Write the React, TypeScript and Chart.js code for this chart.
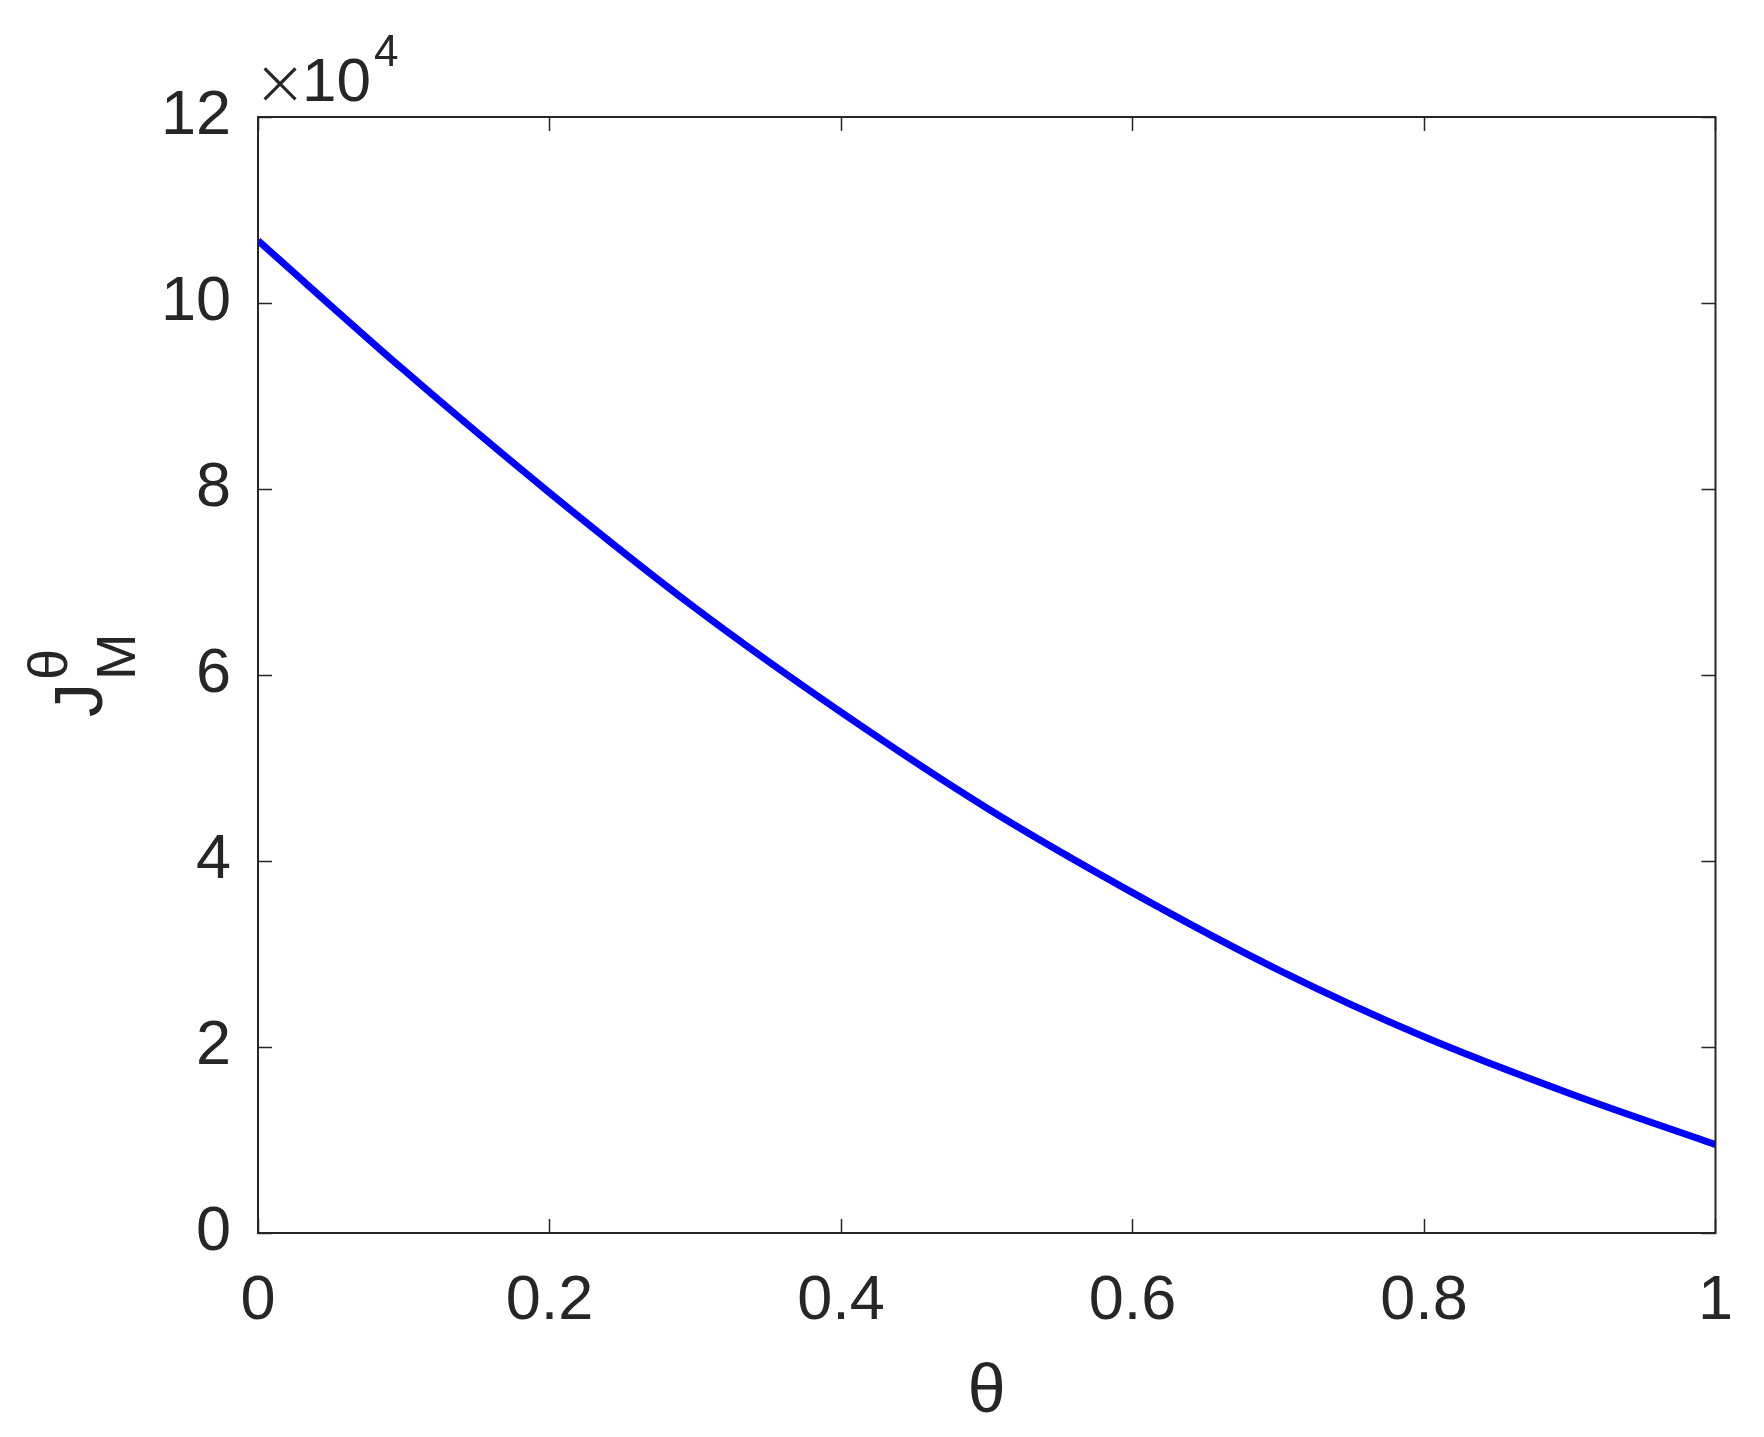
import React, { useEffect, useRef } from "react";
import { Chart, registerables } from "chart.js";

Chart.register(...registerables);

const thetaValues = [0, 0.1, 0.2, 0.3, 0.4, 0.5, 0.6, 0.7, 0.8, 0.9, 1.0];
const jValues = [106700, 92800, 79600, 67200, 56000, 45700, 36600, 28300, 21100, 15000, 9500];
const xTickStep = 0.2;
const yTickStep = 20000;
const yMax = 120000;
const yExponentTimes = "×";
const yExponentBase = "10";
const yExponent = "4";
const xTitle = "θ";
const yTitleMain = "J";
const yTitleSup = "θ";
const yTitleSub = "M";

const FONT = '"Liberation Sans", Arial, Helvetica, sans-serif';
const AXIS_COLOR = "#262626";

const framePlugin = {
  id: "matlabFrame",
  afterDraw(chart: any) {
    const { ctx, chartArea, scales } = chart;
    const { left, right, top, bottom } = chartArea;
    const xs = scales.x;
    const ys = scales.y;
    ctx.save();
    ctx.strokeStyle = AXIS_COLOR;
    ctx.lineWidth = 2;
    ctx.strokeRect(left, top, right - left, bottom - top);
    const tl = 14;
    ctx.beginPath();
    xs.ticks.forEach((t: any) => {
      const px = Math.round(xs.getPixelForValue(t.value)) + 0.5;
      ctx.moveTo(px, bottom);
      ctx.lineTo(px, bottom - tl);
      ctx.moveTo(px, top);
      ctx.lineTo(px, top + tl);
    });
    ys.ticks.forEach((t: any) => {
      const py = Math.round(ys.getPixelForValue(t.value)) + 0.5;
      ctx.moveTo(left, py);
      ctx.lineTo(left + tl, py);
      ctx.moveTo(right, py);
      ctx.lineTo(right - tl, py);
    });
    ctx.lineWidth = 1.5;
    ctx.stroke();

    ctx.fillStyle = AXIS_COLOR;
    ctx.textBaseline = "alphabetic";
    // exponent label
    ctx.font = `200 64px "DejaVu Sans", ${FONT}`;
    ctx.textAlign = "center";
    ctx.fillText(yExponentTimes, 280, 104);
    ctx.textAlign = "left";
    ctx.font = `62px ${FONT}`;
    ctx.fillText(yExponentBase, 302, 101);
    const w = ctx.measureText(yExponentBase).width;
    ctx.font = `44px ${FONT}`;
    ctx.fillText(yExponent, 302 + w + 3, 66);

    // x title
    ctx.font = `68px ${FONT}`;
    ctx.textAlign = "center";
    ctx.fillText(xTitle, (left + right) / 2, 1412);

    // y title (rotated)
    ctx.save();
    ctx.translate(102, 717);
    ctx.rotate(-Math.PI / 2);
    ctx.textAlign = "left";
    ctx.font = `68px ${FONT}`;
    ctx.fillText(yTitleMain, 0, 0);
    const jw = ctx.measureText(yTitleMain).width;
    ctx.font = `56px ${FONT}`;
    ctx.fillText(yTitleSup, jw + 3, -35);
    ctx.fillText(yTitleSub, jw + 3, 33);
    ctx.restore();

    ctx.restore();
  },
};

export default function App() {
  const canvasRef = useRef<HTMLCanvasElement | null>(null);

  useEffect(() => {
    const canvas = canvasRef.current;
    if (!canvas) return;
    const chart = new Chart(canvas, {
      type: "line",
      data: {
        labels: thetaValues,
        datasets: [
          {
            data: thetaValues.map((t, i) => ({ x: t, y: jValues[i] })),
            borderColor: "#0000ff",
            borderWidth: 7,
            pointRadius: 0,
            fill: false,
            cubicInterpolationMode: "monotone",
          },
        ],
      },
      options: {
        animation: false,
        responsive: false,
        devicePixelRatio: 1,
        events: [],
        layout: { padding: { left: 0, top: 117, right: 45, bottom: 0 } },
        plugins: {
          legend: { display: false },
          tooltip: { enabled: false },
          title: { display: false },
        },
        scales: {
          x: {
            type: "linear",
            min: 0,
            max: 1,
            grid: { display: false, drawTicks: false },
            border: { display: false },
            ticks: {
              stepSize: xTickStep,
              color: AXIS_COLOR,
              font: { family: FONT, size: 63 },
              padding: 31,
              maxRotation: 0,
              callback: (v: any) => String(Math.round(Number(v) * 10) / 10),
            },
            afterFit: (s: any) => {
              s.height = 204;
            },
          },
          y: {
            type: "linear",
            min: 0,
            max: yMax,
            grid: { display: false, drawTicks: false },
            border: { display: false },
            ticks: {
              stepSize: yTickStep,
              color: AXIS_COLOR,
              font: { family: FONT, size: 63 },
              padding: 27,
              callback: (v: any) => String(Number(v) / 1e4),
            },
            afterFit: (s: any) => {
              s.width = 258;
            },
          },
        },
      },
      plugins: [framePlugin],
    });
    return () => chart.destroy();
  }, []);

  return (
    <div style={{ position: "absolute", left: 0, top: 0, width: 1764, height: 1437, background: "#fff" }}>
      <canvas ref={canvasRef} width={1764} height={1437} />
    </div>
  );
}
